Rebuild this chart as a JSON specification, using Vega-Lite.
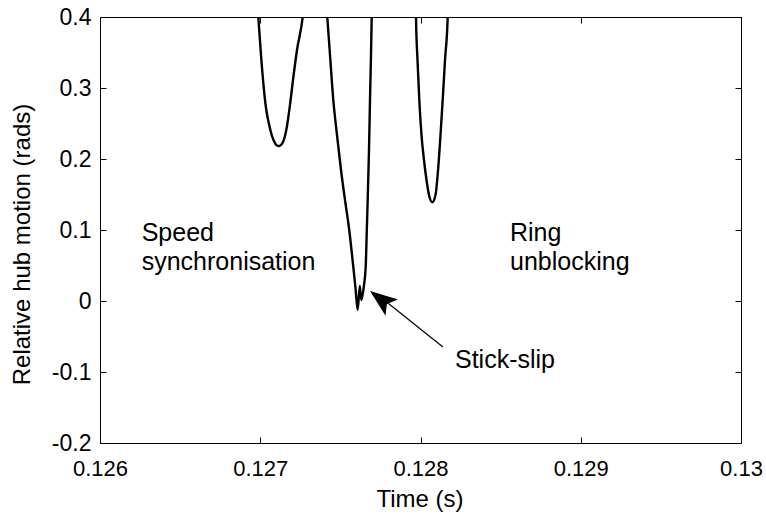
{
  "$schema": "https://vega.github.io/schema/vega-lite/v6.json",
  "width": 641,
  "height": 426,
  "autosize": "none",
  "padding": {"left": 100, "top": 17, "right": 25, "bottom": 73},
  "background": "white",
  "config": {
    "view": {"stroke": "#000", "strokeWidth": 1},
    "axis": {
      "grid": false,
      "domain": false,
      "tickColor": "#000",
      "tickSize": -6,
      "tickWidth": 1,
      "labelFont": "Liberation Sans",
      "labelFontSize": 22,
      "labelColor": "#000",
      "titleFont": "Liberation Sans",
      "titleFontSize": 24,
      "titleFontWeight": "normal",
      "titleColor": "#000"
    }
  },
  "datasets": {
    "curve": [
      {"t": 0.1269704, "v": 0.4493},
      {"t": 0.1269878, "v": 0.4},
      {"t": 0.1270047, "v": 0.3465},
      {"t": 0.1270203, "v": 0.3042},
      {"t": 0.1270359, "v": 0.2718},
      {"t": 0.1270546, "v": 0.2493},
      {"t": 0.1270733, "v": 0.2324},
      {"t": 0.127092, "v": 0.2225},
      {"t": 0.1271045, "v": 0.219},
      {"t": 0.127117, "v": 0.2183},
      {"t": 0.1271295, "v": 0.2197},
      {"t": 0.127142, "v": 0.2239},
      {"t": 0.1271544, "v": 0.2324},
      {"t": 0.1271669, "v": 0.2465},
      {"t": 0.1271856, "v": 0.2761},
      {"t": 0.1272044, "v": 0.3113},
      {"t": 0.1272293, "v": 0.3535},
      {"t": 0.1272649, "v": 0.4},
      {"t": 0.1272855, "v": 0.4493},
      {"t": 0.1274028, "v": 0.4493},
      {"t": 0.1274184, "v": 0.4},
      {"t": 0.1274353, "v": 0.3465},
      {"t": 0.1274559, "v": 0.2831},
      {"t": 0.1274789, "v": 0.2338},
      {"t": 0.1275039, "v": 0.1845},
      {"t": 0.1275289, "v": 0.1423},
      {"t": 0.1275538, "v": 0.1028},
      {"t": 0.1275807, "v": 0.0479},
      {"t": 0.1275944, "v": 0.0183},
      {"t": 0.1276081, "v": -0.0127},
      {"t": 0.1276212, "v": 0.0211},
      {"t": 0.1276306, "v": 0.0014},
      {"t": 0.1276474, "v": 0.0225},
      {"t": 0.127658, "v": 0.0479},
      {"t": 0.1276649, "v": 0.1},
      {"t": 0.1276705, "v": 0.1423},
      {"t": 0.1276786, "v": 0.2127},
      {"t": 0.1276849, "v": 0.2831},
      {"t": 0.1276911, "v": 0.3465},
      {"t": 0.1276955, "v": 0.4},
      {"t": 0.1277005, "v": 0.4493},
      {"t": 0.1279688, "v": 0.4493},
      {"t": 0.1279719, "v": 0.4},
      {"t": 0.1279813, "v": 0.3394},
      {"t": 0.1279925, "v": 0.2831},
      {"t": 0.1280062, "v": 0.2338},
      {"t": 0.1280218, "v": 0.1986},
      {"t": 0.1280374, "v": 0.1704},
      {"t": 0.128053, "v": 0.1493},
      {"t": 0.1280736, "v": 0.139},
      {"t": 0.1280936, "v": 0.1493},
      {"t": 0.1281111, "v": 0.1887},
      {"t": 0.1281248, "v": 0.2338},
      {"t": 0.1281385, "v": 0.2831},
      {"t": 0.1281529, "v": 0.3394},
      {"t": 0.1281697, "v": 0.4},
      {"t": 0.1281747, "v": 0.4493}
    ],
    "arrow": [
      {"t": 0.12814, "v": -0.0648, "t2": 0.12772, "v2": 0.0108}
    ],
    "head": [
      {"t": 0.127753, "v": 0.0024}
    ],
    "notes": [
      {"t": 0.1262602, "v": 0.0845, "label": "Speed"},
      {"t": 0.1262602, "v": 0.0437, "label": "synchronisation"},
      {"t": 0.1285585, "v": 0.0845, "label": "Ring"},
      {"t": 0.1285585, "v": 0.0437, "label": "unblocking"},
      {"t": 0.1282153, "v": -0.0944, "label": "Stick-slip"}
    ]
  },
  "resolve": {"axis": {"x": "independent", "y": "independent"}},
  "layer": [
    {
      "data": {"name": "curve"},
      "mark": {"type": "line", "clip": true, "color": "#000", "strokeWidth": 2.4, "interpolate": "monotone"},
      "encoding": {
        "x": {
          "field": "t", "type": "quantitative",
          "scale": {"domain": [0.126, 0.13], "nice": false, "zero": false},
          "axis": {
            "orient": "bottom",
            "values": [0.126, 0.127, 0.128, 0.129, 0.13],
            "format": ".3~f",
            "labelBaseline": "alphabetic",
            "labelPadding": 38,
            "labelFlush": false,
            "labelOverlap": false,
            "title": "Time (s)",
            "titleBaseline": "alphabetic",
            "titleX": 319.5,
            "titleY": 63
          }
        },
        "y": {
          "field": "v", "type": "quantitative",
          "scale": {"domain": [-0.2, 0.4], "nice": false, "zero": false},
          "axis": {
            "orient": "left",
            "values": [-0.2, -0.1, 0, 0.1, 0.2, 0.3, 0.4],
            "labelExpr": "datum.value < 0 ? '-' + format(-datum.value, '.1~f') : format(datum.value, '.1~f')",
            "labelFontSize": 23,
            "labelPadding": 15,
            "labelFlush": false,
            "labelOverlap": false,
            "title": "Relative hub motion (rads)",
            "titleBaseline": "alphabetic",
            "titleX": -71,
            "titleY": 227
          }
        }
      }
    },
    {
      "data": {"name": "curve"},
      "mark": {"type": "point", "opacity": 0},
      "encoding": {
        "x": {
          "field": "t", "type": "quantitative",
          "axis": {"orient": "top", "values": [0.126, 0.127, 0.128, 0.129, 0.13], "labels": false, "title": null}
        },
        "y": {
          "field": "v", "type": "quantitative",
          "axis": {"orient": "right", "values": [-0.2, -0.1, 0, 0.1, 0.2, 0.3, 0.4], "labels": false, "title": null}
        }
      }
    },
    {
      "data": {"name": "arrow"},
      "mark": {"type": "rule", "color": "#000", "strokeWidth": 1.2},
      "encoding": {
        "x": {"field": "t", "type": "quantitative", "axis": null},
        "y": {"field": "v", "type": "quantitative", "axis": null},
        "x2": {"field": "t2"},
        "y2": {"field": "v2"}
      }
    },
    {
      "data": {"name": "head"},
      "mark": {"type": "point", "shape": "M0,-1L0.75,1L0,0.55L-0.75,1Z", "size": 750, "angle": 307.6, "filled": true, "color": "#000", "opacity": 1, "strokeWidth": 0},
      "encoding": {
        "x": {"field": "t", "type": "quantitative", "axis": null},
        "y": {"field": "v", "type": "quantitative", "axis": null}
      }
    },
    {
      "data": {"name": "notes"},
      "mark": {"type": "text", "align": "left", "baseline": "alphabetic", "font": "Liberation Sans", "fontSize": 25, "color": "#000"},
      "encoding": {
        "x": {"field": "t", "type": "quantitative", "axis": null},
        "y": {"field": "v", "type": "quantitative", "axis": null},
        "text": {"field": "label"}
      }
    }
  ]
}
